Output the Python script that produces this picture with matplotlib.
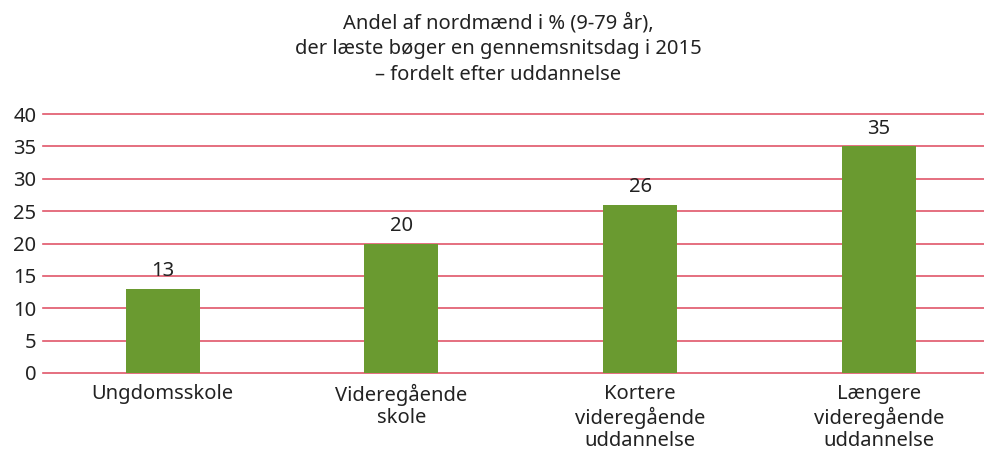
import matplotlib
matplotlib.use('Agg')
import matplotlib.pyplot as plt
import numpy as np

plt.rcParams['font.family'] = ['Noto Sans', 'DejaVu Sans']

categories = ['Ungdomsskole', 'Videregående\nskole', 'Kortere\nvideregående\nuddannelse',
              'Længere\nvideregående\nuddannelse']
values = [13, 20, 26, 35]
title = 'Andel af nordmænd i % (9-79 år),\nder læste bøger en gennemsnitsdag i 2015\n– fordelt efter uddannelse'

fig = plt.figure(figsize=(9.84, 4.51), dpi=100)
ax = fig.add_axes([0.044, 0.173, 0.956, 0.574])

x = np.arange(len(values))
ax.bar(x, values, width=0.31, color='#6a9a30', zorder=3)
for xi, v in zip(x, values):
    ax.text(xi, v + 1.2, str(v), ha='center', va='bottom', fontsize=14.5, color='#222222')

ax.set_ylim(0, 40)
ax.set_xlim(-0.5, 3.44)
ax.set_yticks(range(0, 41, 5))
ax.set_xticks(x)
ax.set_xticklabels(categories, linespacing=1.15)
ax.grid(True, axis='y', color='#e0566a', linewidth=1.2, zorder=0)
for gl in ax.get_ygridlines():
    gl.set_clip_on(False)
ax.tick_params(axis='both', length=0, labelsize=14.5, colors='#222222')
ax.tick_params(axis='y', pad=5)
ax.tick_params(axis='x', pad=8)
for s in ax.spines.values():
    s.set_visible(False)

fig.text(0.506, 0.972, title, ha='center', va='top', fontsize=14.5, color='#222222', linespacing=1.4)

fig.savefig('out.png', dpi=100)
